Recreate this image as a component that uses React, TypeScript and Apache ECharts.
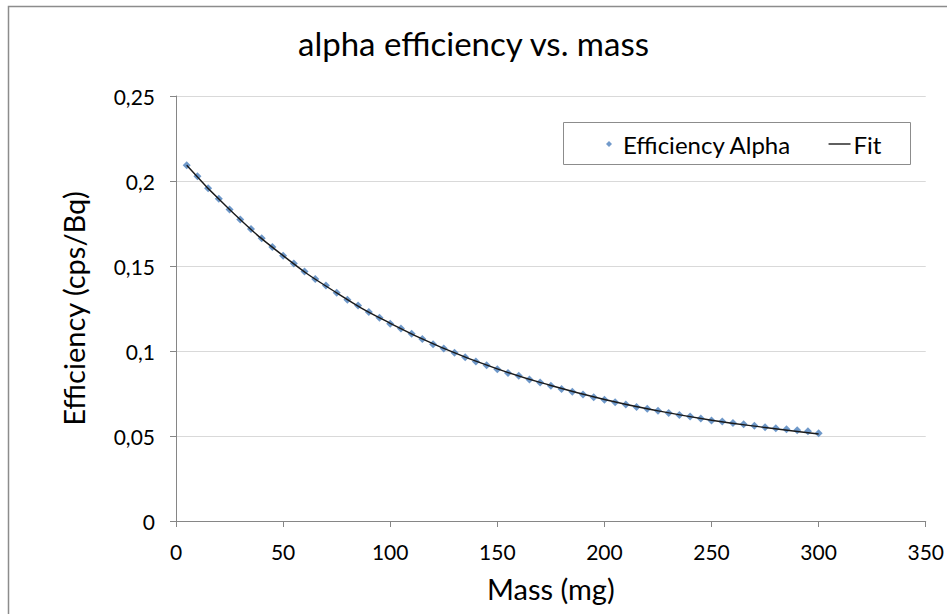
import React, { useEffect, useRef } from "react";
import * as echarts from "echarts";

const massValues: number[] = [
  5, 10, 15, 20, 25, 30, 35, 40, 45, 50, 55, 60, 65, 70, 75, 80, 85, 90, 95, 100,
  105, 110, 115, 120, 125, 130, 135, 140, 145, 150, 155, 160, 165, 170, 175, 180, 185, 190, 195, 200,
  205, 210, 215, 220, 225, 230, 235, 240, 245, 250, 255, 260, 265, 270, 275, 280, 285, 290, 295, 300,
];
const efficiencyValues: number[] = [
  0.2093, 0.2028, 0.1957, 0.1895, 0.1832, 0.1773, 0.1718, 0.1663, 0.1612, 0.1561,
  0.1514, 0.1467, 0.1424, 0.1385, 0.1342, 0.1302, 0.1267, 0.123, 0.1195, 0.1161,
  0.1132, 0.1101, 0.1071, 0.104, 0.1014, 0.0989, 0.0963, 0.0938, 0.0916, 0.0893,
  0.0871, 0.0854, 0.0832, 0.0814, 0.0795, 0.0777, 0.0761, 0.0744, 0.0728, 0.0713,
  0.0699, 0.0685, 0.0671, 0.066, 0.0648, 0.0636, 0.0624, 0.0614, 0.0603, 0.0591,
  0.0585, 0.0577, 0.0569, 0.056, 0.0552, 0.0546, 0.054, 0.0534, 0.0528, 0.0516,
];
const fitMass: number[] = [5, 25, 50, 75, 100, 125, 150, 175, 200, 225, 250, 275, 300];
const fitValues: number[] = [0.2093, 0.1832, 0.1561, 0.1342, 0.1163, 0.1016, 0.0895, 0.0797, 0.0715, 0.0648, 0.0593, 0.0550, 0.0512];

const FONT = "Lato";

export default function App() {
  const ref = useRef<HTMLDivElement>(null);
  useEffect(() => {
    if (!ref.current) return;
    const chart = echarts.init(ref.current, null, { renderer: "svg" });
    const scatterData = massValues.map((m, i) => [m, efficiencyValues[i]]);
    const fitData = fitMass.map((m, i) => [m, fitValues[i]]);
    chart.setOption({
      animation: false,
      backgroundColor: "#ffffff",
      textStyle: { fontFamily: FONT },
      title: {
        text: "alpha efficiency vs. mass",
        left: "center",
        top: 21,
        textStyle: { fontFamily: FONT, fontSize: 33, fontWeight: "normal", color: "#000" },
      },
      graphic: [
        {
          type: "rect",
          shape: { x: 8.5, y: 6.5, width: 960, height: 640 },
          style: { fill: "none", stroke: "#8c8c8c", lineWidth: 1.5 },
          silent: true,
          z: 100,
        },
        {
          type: "rect",
          shape: { x: 563.5, y: 122.5, width: 347, height: 42 },
          style: { fill: "#fff", stroke: "#8c8c8c", lineWidth: 1 },
          silent: true,
          z: 5,
        },
      ],
      legend: {
        left: 601,
        top: 127,
        itemWidth: 22,
        itemHeight: 6,
        itemGap: 37,
        symbolKeepAspect: true,
        z: 10,
        textStyle: { fontFamily: FONT, fontSize: 24, color: "#000", padding: [0, 0, 0, -2] },
        data: [
          { name: "Efficiency Alpha", icon: "path://M0,3L3,0L6,3L3,6Z", itemStyle: { color: "#4f81bd" } },
          { name: "Fit", icon: "path://M0,0L22,0L22,1.4L0,1.4Z", itemStyle: { color: "#1a1a1a" } },
        ],
      },
      grid: { left: 176, top: 96, right: 16, bottom: 93 },
      xAxis: {
        type: "value",
        min: 0,
        max: 350,
        interval: 50,
        name: "Mass (mg)",
        nameLocation: "middle",
        nameGap: 53,
        nameTextStyle: { fontFamily: FONT, fontSize: 29, color: "#000" },
        axisLine: { show: true, lineStyle: { color: "#868686", width: 1 } },
        axisTick: { show: true, length: 6, lineStyle: { color: "#868686" } },
        axisLabel: { fontFamily: FONT, fontSize: 21, color: "#000", margin: 20 },
        splitLine: { show: false },
      },
      yAxis: {
        type: "value",
        min: 0,
        max: 0.25,
        interval: 0.05,
        name: "Efficiency (cps/Bq)",
        nameLocation: "middle",
        nameGap: 88,
        nameTextStyle: { fontFamily: FONT, fontSize: 29, color: "#000" },
        axisLine: { show: true, lineStyle: { color: "#868686", width: 1 } },
        axisTick: { show: true, length: 6, lineStyle: { color: "#868686" } },
        axisLabel: {
          fontFamily: FONT,
          fontSize: 21,
          color: "#000",
          margin: 21,
          formatter: (v: number) => String(Number(v.toFixed(2))).replace(".", ","),
        },
        splitLine: { show: true, lineStyle: { color: "#d9d9d9", width: 1 } },
      },
      series: [
        {
          name: "Efficiency Alpha",
          type: "scatter",
          data: scatterData,
          symbol: "diamond",
          symbolSize: 8,
          itemStyle: { color: "#4a7ebb" },
          z: 2,
        },
        {
          name: "Fit",
          type: "line",
          data: fitData,
          smooth: true,
          symbol: "none",
          showSymbol: false,
          lineStyle: { color: "#1a1a1a", width: 1.4 },
          itemStyle: { color: "#1a1a1a" },
          z: 3,
        },
      ],
    });
    return () => chart.dispose();
  }, []);
  return (
    <div
      ref={ref}
      style={{ position: "absolute", left: 0, top: 0, width: 947, height: 614 }}
    />
  );
}
